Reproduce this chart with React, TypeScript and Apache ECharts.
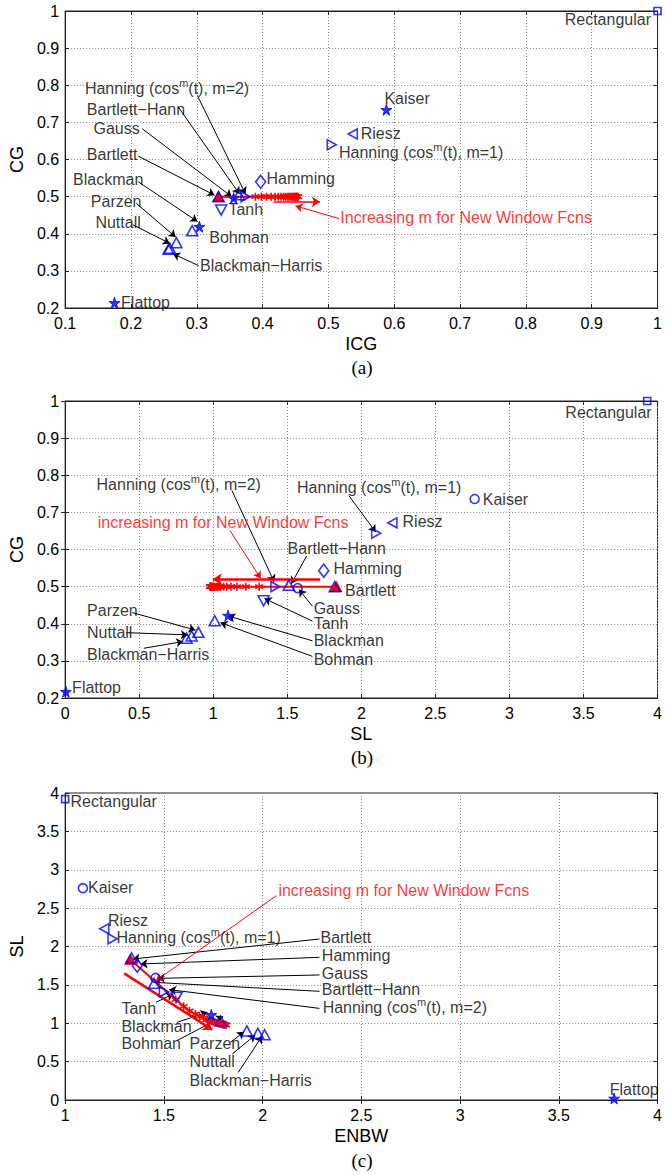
import React, { useEffect, useRef } from "react";
import * as echarts from "echarts";

const FONT = "'Liberation Sans', Arial, Helvetica, sans-serif";
const BLUE = "#0000ff";
const RED = "#ff0000";

const HM1 = "{t|Hanning (cos}{s|m}{t|(t), m=1)}";
const HM2 = "{t|Hanning (cos}{s|m}{t|(t), m=2)}";

// Window functions (same order in every panel)
const windowNames = [
  "Rectangular", "Kaiser", "Riesz", "Hanning m=1", "Hamming", "Bartlett", "Gauss",
  "Bartlett-Hann", "Hanning m=2", "Tanh", "Blackman", "Bohman", "Parzen", "Nuttall",
  "Blackman-Harris", "Flattop",
];

// Panel (a): ICG vs CG
const icgA = [1.0, 0.588, 0.537, 0.505, 0.397, 0.333, 0.356, 0.364, 0.374, 0.337, 0.304, 0.293, 0.269, 0.259, 0.257, 0.175];
const cgA = [1.0, 0.734, 0.669, 0.640, 0.540, 0.500, 0.496, 0.505, 0.500, 0.464, 0.419, 0.408, 0.376, 0.361, 0.358, 0.214];
const symA = ["sq", "star", "left", "right", "dia", "up", "star", "up", "right", "down", "star", "up", "up", "up", "up", "star"];

// Panel (b): SL vs CG
const slB = [3.93, 2.765, 2.21, 2.10, 1.746, 1.82, 1.57, 1.51, 1.42, 1.34, 1.10, 1.01, 0.90, 0.854, 0.82, 0.005];
const cgB = [1.0, 0.736, 0.672, 0.644, 0.543, 0.500, 0.496, 0.504, 0.500, 0.462, 0.422, 0.408, 0.377, 0.367, 0.361, 0.217];
const symB = ["sq", "circ", "left", "right", "dia", "up", "circ", "up", "right", "down", "star", "up", "up", "up", "up", "star"];

// Panel (c): ENBW vs SL
const enbwC = [1.0, 1.09, 1.198, 1.24, 1.365, 1.337, 1.457, 1.45, 1.50, 1.565, 1.74, 1.787, 1.92, 1.976, 2.01, 3.78];
const slC = [3.92, 2.76, 2.23, 2.10, 1.75, 1.85, 1.59, 1.52, 1.41, 1.34, 1.11, 1.03, 0.90, 0.87, 0.85, 0.02];
const symC = ["sq", "circ", "left", "right", "dia", "up", "circ", "up", "right", "down", "star", "up", "up", "up", "up", "star"];

// New window functions (increasing m)
const newIcg = [0.333, 0.389, 0.398, 0.406, 0.413, 0.419, 0.424, 0.428, 0.432, 0.435, 0.438, 0.440, 0.442, 0.444, 0.446, 0.447, 0.449, 0.450, 0.451, 0.452, 0.453, 0.454];
const newCg = [0.5, 0.5, 0.5, 0.5, 0.5, 0.5, 0.5, 0.5, 0.5, 0.5, 0.5, 0.5, 0.5, 0.5, 0.5, 0.5, 0.5, 0.5, 0.5, 0.5, 0.5, 0.5];
const newSl = [1.83, 1.31, 1.22, 1.16, 1.12, 1.09, 1.07, 1.05, 1.04, 1.03, 1.02, 1.01, 1.005, 1.0, 0.995, 0.99, 0.988, 0.985, 0.983, 0.981, 0.98, 0.978];
const newEnbw = [1.33, 1.56, 1.60, 1.63, 1.66, 1.68, 1.70, 1.72, 1.73, 1.74, 1.75, 1.76, 1.77, 1.775, 1.78, 1.79, 1.795, 1.80, 1.803, 1.806, 1.81, 1.815];

// Annotations: [text, x, y, align]
const labelsA: [string, number, number, string][] = [
  ["Rectangular", 0.99, 0.978, "r"],
  ["Kaiser", 0.585, 0.763, "l"],
  ["Riesz", 0.549, 0.669, "l"],
  [HM1, 0.516, 0.620, "l"],
  ["Hamming", 0.406, 0.549, "l"],
  ["Tanh", 0.348, 0.464, "l"],
  ["Bohman", 0.319, 0.391, "l"],
  ["Blackman\u2212Harris", 0.305, 0.314, "l"],
  ["Flattop", 0.185, 0.214, "l"],
  [HM2, 0.130, 0.790, "l"],
  ["Bartlett\u2212Hann", 0.133, 0.736, "l"],
  ["Gauss", 0.143, 0.683, "l"],
  ["Bartlett", 0.133, 0.614, "l"],
  ["Blackman", 0.112, 0.546, "l"],
  ["Parzen", 0.139, 0.488, "l"],
  ["Nuttall", 0.146, 0.430, "l"],
];
const redTextA: [string, number, number] = ["Increasing m for New Window Fcns", 0.518, 0.444];
const arrowsA = [
  [0.301, 0.772, 0.374, 0.507],
  [0.272, 0.741, 0.365, 0.507],
  [0.217, 0.683, 0.353, 0.500],
  [0.211, 0.609, 0.327, 0.504],
  [0.211, 0.540, 0.301, 0.433],
  [0.208, 0.482, 0.268, 0.391],
  [0.203, 0.424, 0.259, 0.374],
  [0.303, 0.314, 0.264, 0.346],
];
const redThinA = [0.516, 0.441, 0.450, 0.475];
const redThickA = [0.417, 0.486, 0.487, 0.486];

const labelsB: [string, number, number, string][] = [
  ["Rectangular", 3.96, 0.969, "r"],
  ["Kaiser", 2.82, 0.736, "l"],
  ["Riesz", 2.278, 0.676, "l"],
  [HM1, 1.566, 0.766, "l"],
  [HM2, 0.212, 0.775, "l"],
  ["Bartlett\u2212Hann", 1.502, 0.604, "l"],
  ["Hamming", 1.812, 0.549, "l"],
  ["Bartlett", 1.89, 0.490, "l"],
  ["Gauss", 1.678, 0.441, "l"],
  ["Tanh", 1.678, 0.401, "l"],
  ["Blackman", 1.678, 0.354, "l"],
  ["Bohman", 1.678, 0.305, "l"],
  ["Parzen", 0.148, 0.437, "l"],
  ["Nuttall", 0.148, 0.377, "l"],
  ["Blackman\u2212Harris", 0.148, 0.318, "l"],
  ["Flattop", 0.047, 0.227, "l"],
];
const redTextB: [string, number, number] = ["increasing m for New Window Fcns", 0.220, 0.674];
const arrowsB = [
  [1.916, 0.745, 2.097, 0.647],
  [1.126, 0.759, 1.411, 0.513],
  [1.631, 0.583, 1.528, 0.508],
  [1.67, 0.447, 1.579, 0.492],
  [1.67, 0.407, 1.346, 0.468],
  [1.67, 0.354, 1.10, 0.421],
  [1.67, 0.312, 1.049, 0.403],
  [0.453, 0.430, 0.880, 0.383],
  [0.414, 0.376, 0.828, 0.370],
  [0.531, 0.334, 0.797, 0.352],
];
const redThinB = [1.113, 0.651, 1.320, 0.522];
const redThickB = [1.722, 0.52, 0.997, 0.52];

const labelsC: [string, number, number, string][] = [
  ["Rectangular", 1.027, 3.887, "l"],
  ["Kaiser", 1.116, 2.771, "l"],
  ["Riesz", 1.217, 2.337, "l"],
  [HM1, 1.26, 2.12, "l"],
  ["Bartlett", 2.293, 2.111, "l"],
  ["Hamming", 2.30, 1.881, "l"],
  ["Gauss", 2.30, 1.65, "l"],
  ["Bartlett\u2212Hann", 2.30, 1.438, "l"],
  [HM2, 2.304, 1.207, "l"],
  ["Tanh", 1.285, 1.186, "l"],
  ["Blackman", 1.285, 0.955, "l"],
  ["Bohman", 1.285, 0.730, "l"],
  ["Parzen", 1.63, 0.730, "l"],
  ["Nuttall", 1.63, 0.50, "l"],
  ["Blackman\u2212Harris", 1.63, 0.252, "l"],
  ["Flattop", 3.758, 0.143, "l"],
];
const redTextC: [string, number, number] = ["increasing m for New Window Fcns", 2.08, 2.727];
const arrowsC = [
  [2.288, 2.098, 1.343, 1.837],
  [2.288, 1.859, 1.382, 1.772],
  [2.288, 1.629, 1.469, 1.585],
  [2.288, 1.416, 1.45, 1.533],
  [2.288, 1.194, 1.527, 1.438],
  [1.46, 1.273, 1.547, 1.381],
  [1.566, 1.012, 1.721, 1.142],
  [1.566, 0.773, 1.80, 1.09],
  [1.838, 0.751, 1.906, 0.89],
  [1.847, 0.60, 1.963, 0.847],
  [1.877, 0.36, 1.997, 0.83],
];
const redThinC = [2.07, 2.662, 1.46, 1.555];
const redThickC = [1.299, 1.65, 1.745, 0.916];

const STAR = "path://M50,0 L61,35 L98,35 L68,57 L79,91 L50,70 L21,91 L32,57 L2,35 L39,35 Z";
const ASTER = "path://M5,0L5,10M0.7,2.5L9.3,7.5M0.7,7.5L9.3,2.5";
const symbolDefs: Record<string, any> = {
  sq: { symbol: "rect", symbolSize: 7, fill: false },
  star: { symbol: STAR, symbolSize: 11, fill: true },
  left: { symbol: "path://M0,5L9,0L9,10Z", symbolSize: [9, 10], fill: false },
  right: { symbol: "path://M0,0L9,5L0,10Z", symbolSize: [9, 10], fill: false },
  up: { symbol: "path://M5,0L10,9L0,9Z", symbolSize: [11, 10], fill: false },
  down: { symbol: "path://M0,0L10,0L5,9Z", symbolSize: [11, 10], fill: false },
  dia: { symbol: "diamond", symbolSize: [10, 13], fill: false },
  circ: { symbol: "circle", symbolSize: 9, fill: false },
};

function markerSeries(xs: number[], ys: number[], syms: string[], idx: number) {
  return {
    type: "scatter",
    xAxisIndex: idx,
    yAxisIndex: idx,
    z: 5,
    silent: true,
    data: xs.map((x, i) => {
      const d = symbolDefs[syms[i]];
      return {
        name: windowNames[i],
        value: [x, ys[i]],
        symbol: d.symbol,
        symbolSize: d.symbolSize,
        itemStyle: {
          color: d.fill ? BLUE : "rgba(0,0,0,0)",
          borderColor: BLUE,
          borderWidth: d.fill ? 1 : 1.6,
        },
      };
    }),
  };
}

function newSeries(xs: number[], ys: number[], idx: number) {
  return {
    type: "line",
    xAxisIndex: idx,
    yAxisIndex: idx,
    z: 4,
    silent: true,
    symbol: ASTER,
    symbolSize: 8,
    showAllSymbol: true,
    lineStyle: { color: RED, width: 2 },
    itemStyle: { color: RED, borderColor: RED, borderWidth: 1.6 },
    data: xs.map((x, i) =>
      i === 0
        ? { value: [x, ys[i]], symbol: "path://M5,0L10,9L0,9Z", symbolSize: [10, 9], itemStyle: { color: RED, borderColor: RED } }
        : { value: [x, ys[i]] }
    ),
  };
}

function labelSeries(labels: [string, number, number, string][], red: [string, number, number], idx: number) {
  const rich = {
    t: { fontSize: 16, fontFamily: FONT, color: "#000", lineHeight: 22 },
    s: { fontSize: 11, fontFamily: FONT, color: "#000", verticalAlign: "top", lineHeight: 11 },
  };
  const items = labels.map((l) => ({
    value: [l[1], l[2]],
    label: {
      show: true,
      position: l[3] === "r" ? "left" : "right",
      distance: 0,
      formatter: l[0],
      color: "#000",
      fontSize: 16,
      fontFamily: FONT,
      rich,
    },
  }));
  items.push({
    value: [red[1], red[2]],
    label: {
      show: true,
      position: "right",
      distance: 0,
      formatter: red[0],
      color: RED,
      fontSize: 16,
      fontFamily: FONT,
      rich,
    },
  });
  return {
    type: "scatter",
    xAxisIndex: idx,
    yAxisIndex: idx,
    z: 6,
    silent: true,
    symbolSize: 0,
    itemStyle: { color: "rgba(0,0,0,0)" },
    data: items,
  };
}

function arrowSeries(arr: number[][], idx: number, color: string, width: number, size: number) {
  return {
    type: "lines",
    coordinateSystem: "cartesian2d",
    xAxisIndex: idx,
    yAxisIndex: idx,
    z: 3,
    silent: true,
    symbol: ["none", "arrow"],
    symbolSize: size,
    lineStyle: { color, width, opacity: 1, curveness: 0 },
    data: arr.map((a) => ({ coords: [[a[0], a[1]], [a[2], a[3]]] })),
  };
}

const fmt = (v: number) => String(Number(v.toFixed(2)));

function xAxis(idx: number, min: number, max: number, interval: number, name: string) {
  return {
    type: "value",
    gridIndex: idx,
    min,
    max,
    interval,
    name,
    nameLocation: "middle",
    nameGap: 27,
    nameTextStyle: { fontSize: 18, fontFamily: FONT, color: "#000" },
    axisLine: { show: true, lineStyle: { color: "#222", width: 1 } },
    axisTick: { show: true, inside: true, length: 4, lineStyle: { color: "#222" } },
    axisLabel: { fontSize: 16, fontFamily: FONT, color: "#000", margin: 7, formatter: fmt },
    splitLine: { show: true, lineStyle: { color: "#8a8a8a", type: [1, 2], width: 1 } },
  };
}

function xAxisTop(idx: number, min: number, max: number, interval: number) {
  return {
    type: "value",
    gridIndex: idx,
    position: "top",
    min,
    max,
    interval,
    axisLine: { show: true, lineStyle: { color: "#222", width: 1 } },
    axisTick: { show: true, inside: true, length: 4, lineStyle: { color: "#222" } },
    axisLabel: { show: false },
    splitLine: { show: false },
  };
}

function yAxis(idx: number, min: number, max: number, interval: number, name: string) {
  return {
    type: "value",
    gridIndex: idx,
    min,
    max,
    interval,
    name,
    nameLocation: "middle",
    nameGap: 35,
    nameTextStyle: { fontSize: 18, fontFamily: FONT, color: "#000" },
    axisLine: { show: true, lineStyle: { color: "#222", width: 1 } },
    axisTick: { show: true, inside: true, length: 4, lineStyle: { color: "#222" } },
    axisLabel: { fontSize: 16, fontFamily: FONT, color: "#000", margin: 6, formatter: fmt },
    splitLine: { show: true, lineStyle: { color: "#8a8a8a", type: [1, 2], width: 1 } },
  };
}

function yAxisRight(idx: number, min: number, max: number, interval: number) {
  return {
    type: "value",
    gridIndex: idx,
    position: "right",
    min,
    max,
    interval,
    axisLine: { show: true, lineStyle: { color: "#222", width: 1 } },
    axisTick: { show: true, inside: true, length: 4, lineStyle: { color: "#222" } },
    axisLabel: { show: false },
    splitLine: { show: false },
  };
}

const captionFont = "19px 'Liberation Serif', 'Times New Roman', serif";

export default function App() {
  const ref = useRef<HTMLDivElement>(null);
  useEffect(() => {
    if (!ref.current) return;
    const chart = echarts.init(ref.current, undefined, { renderer: "svg" });
    const gridBase = { show: true, borderColor: "#222", borderWidth: 1, backgroundColor: "#fff", containLabel: false };
    chart.setOption({
      animation: false,
      backgroundColor: "#fff",
      grid: [
        { ...gridBase, left: 63, top: 11, width: 598, height: 297 },
        { ...gridBase, left: 63, top: 401, width: 598, height: 297 },
        { ...gridBase, left: 62, top: 793, width: 600, height: 307 },
      ],
      xAxis: [
        xAxis(0, 0.1, 1, 0.1, "ICG"),
        xAxis(1, 0, 4, 0.5, "SL"),
        xAxis(2, 1, 4, 0.5, "ENBW"),
        xAxisTop(0, 0.1, 1, 0.1),
        xAxisTop(1, 0, 4, 0.5),
        xAxisTop(2, 1, 4, 0.5),
      ],
      yAxis: [
        yAxis(0, 0.2, 1, 0.1, "CG"),
        yAxis(1, 0.2, 1, 0.1, "CG"),
        yAxis(2, 0, 4, 0.5, "SL"),
        yAxisRight(0, 0.2, 1, 0.1),
        yAxisRight(1, 0.2, 1, 0.1),
        yAxisRight(2, 0, 4, 0.5),
      ],
      graphic: [
        { type: "text", x: 362, y: 367, style: { text: "(a)", font: captionFont, fill: "#000", textAlign: "center", textVerticalAlign: "middle" } },
        { type: "text", x: 362, y: 757, style: { text: "(b)", font: captionFont, fill: "#000", textAlign: "center", textVerticalAlign: "middle" } },
        { type: "text", x: 362, y: 1160, style: { text: "(c)", font: captionFont, fill: "#000", textAlign: "center", textVerticalAlign: "middle" } },
      ],
      series: [
        arrowSeries(arrowsA, 0, "#000", 1, 7),
        arrowSeries([redThinA], 0, RED, 1, 7),
        arrowSeries([redThickA], 0, RED, 1.5, 8),
        newSeries(newIcg, newCg, 0),
        markerSeries(icgA, cgA, symA, 0),
        labelSeries(labelsA, redTextA, 0),

        arrowSeries(arrowsB, 1, "#000", 1, 7),
        arrowSeries([redThinB], 1, RED, 1, 7),
        arrowSeries([redThickB], 1, RED, 2.5, 9),
        newSeries(newSl, newCg, 1),
        markerSeries(slB, cgB, symB, 1),
        labelSeries(labelsB, redTextB, 1),

        arrowSeries(arrowsC, 2, "#000", 1, 7),
        arrowSeries([redThinC], 2, RED, 1, 7),
        arrowSeries([redThickC], 2, RED, 2.5, 9),
        newSeries(newEnbw, newSl, 2),
        markerSeries(enbwC, slC, symC, 2),
        labelSeries(labelsC, redTextC, 2),
      ],
    });
    return () => chart.dispose();
  }, []);
  return (
    <div
      ref={ref}
      style={{ position: "absolute", left: 0, top: 0, width: 665, height: 1175, background: "#fff" }}
    />
  );
}
